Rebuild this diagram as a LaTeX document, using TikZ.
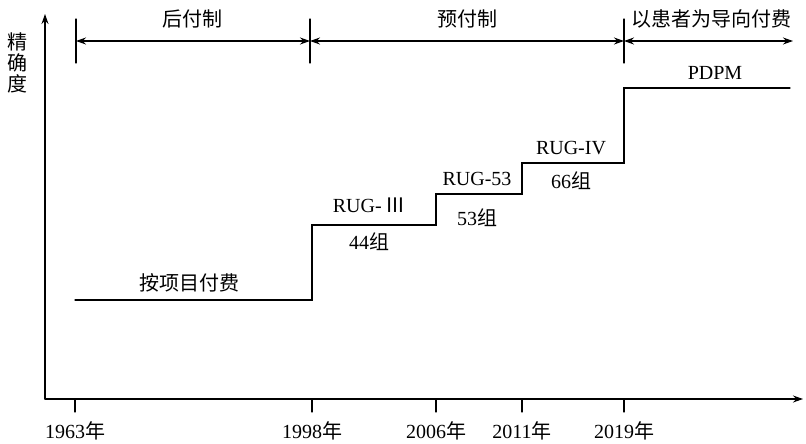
\documentclass[tikz,border=0pt]{standalone}
\usepackage{fontspec}
\setmainfont{Liberation Serif}
\newfontfamily\cjk{Noto Sans CJK SC}
\usetikzlibrary{arrows.meta}

\begin{document}
\begin{tikzpicture}[x=1pt,y=-1pt,>={Stealth[length=10pt,width=7pt]},line width=1.1pt,line cap=round,
  font=\fontsize{20}{23}\selectfont,
  lbl/.style={inner sep=0pt,anchor=center}]
\useasboundingbox (0,0) rectangle (806,444);
% axes
\coordinate (O) at (45,399);
\coordinate (ytop) at (45,14);
\coordinate (xend) at (803,399);
\draw[->] (O) -- (ytop);
\draw[->] (O) -- (xend);
\node[lbl,align=center,font=\cjk\fontsize{20}{21}\selectfont] (ylab) at (18,63) {精\\确\\度};
% years
\foreach \x/\yr in {75/1963,312/1998,436/2006,522/2011,624/2019}{
  \coordinate (t\yr) at (\x,399);
  \draw (t\yr) -- ++(0,13);
  \node[lbl] (y\yr) at (\x,431) {\yr{\cjk 年}};
}
% periods
\foreach \x/\n in {76/a,310/b,624/c}{
  \coordinate (top\n) at (\x,19);
  \coordinate (bot\n) at (\x,63);
  \coordinate (mid\n) at (\x,41);
  \draw (top\n) -- (bot\n);
}
\coordinate (midd) at (793,41);
\draw[<->] (mida) -- (midb);
\draw[<->] (midb) -- (midc);
\draw[<->] (midc) -- (midd);
\node[lbl] (pa) at (192,19) {\cjk 后付制};
\node[lbl] (pb) at (467,19) {\cjk 预付制};
\node[lbl] (pc) at (711,19) {\cjk 以患者为导向付费};
% steps
\draw (75,300) -- (312,300) -- (312,225) -- (436,225) -- (436,194)
  -- (522,194) -- (522,163) -- (624,163) -- (624,88) -- (790,88);
\node[lbl] (s0) at (189,283) {\cjk 按项目付费};
\node[lbl] (s1) at (369,205) {RUG-\,{\cjk Ⅲ}};
\node[lbl] (g1) at (369,242) {44{\cjk 组}};
\node[lbl] (s2) at (477,179) {RUG-53};
\node[lbl] (g2) at (477,218) {53{\cjk 组}};
\node[lbl] (s3) at (571,148) {RUG-IV};
\node[lbl] (g3) at (571,181) {66{\cjk 组}};
\node[lbl] (s4) at (715,73) {PDPM};
\end{tikzpicture}
\end{document}
